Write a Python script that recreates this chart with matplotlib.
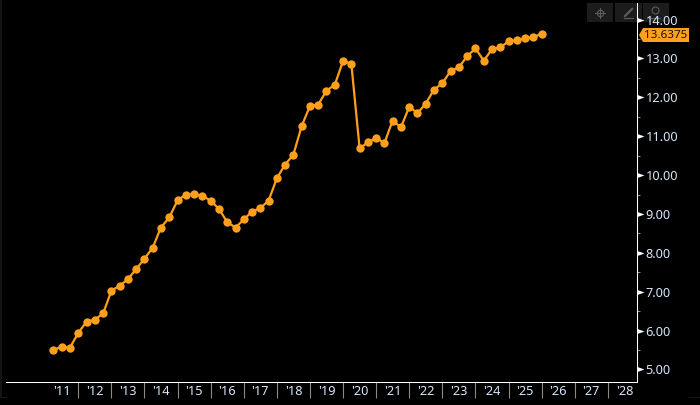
import numpy as np
import pandas as pd
import matplotlib
matplotlib.use("Agg")
import matplotlib.pyplot as plt
from matplotlib.patches import Polygon, Rectangle
from matplotlib.lines import Line2D
from matplotlib.path import Path

# quarterly readings
quarters = pd.date_range("2011-03-31", periods=60, freq="QE")
values = [5.50, 5.585, 5.56, 5.94, 6.23, 6.28, 6.44, 7.03, 7.15, 7.32,
          7.58, 7.85, 8.13, 8.65, 8.91, 9.35, 9.50, 9.51, 9.47, 9.34,
          9.13, 8.79, 8.65, 8.86, 9.06, 9.15, 9.34, 9.92, 10.27, 10.52,
          11.26, 11.78, 11.81, 12.17, 12.32, 12.94, 12.86, 10.69, 10.84, 10.96,
          10.82, 11.40, 11.23, 11.76, 11.59, 11.84, 12.20, 12.36, 12.68, 12.77,
          13.06, 13.26, 12.94, 13.24, 13.29, 13.44, 13.47, 13.52, 13.55, 13.6375]
last_label = "13.6375"

year_ticks = list(range(2012, 2029))
year_labels = ["'11", "'12", "'13", "'14", "'15", "'16", "'17", "'18", "'19",
               "'20", "'21", "'22", "'23", "'24", "'25", "'26", "'27", "'28"]
y_major = [5, 6, 7, 8, 9, 10, 11, 12, 13, 14]
y_minor = [5.5, 6.5, 7.5, 8.5, 9.5, 10.5, 11.5, 12.5, 13.5]

ORANGE = "#ffa01c"
TEXT = "#d6e6fa"
FS = 9.2
W, H = 700, 405

plt.rcParams["font.family"] = ["Noto Sans", "DejaVu Sans"]

fig = plt.figure(figsize=(7, 4.05), dpi=100, facecolor="black")
ax = fig.add_axes([6 / W, 1 - 381.7 / H, 630.5 / W, 378.7 / H], facecolor="none")

x = quarters.year + (quarters.dayofyear / 365.0)
ax.plot(x, values, color=ORANGE, lw=1.6, marker="o", ms=6, mew=0, clip_on=False)

ax.set_xlim(2009.816, 2028.864)
ax.set_ylim(4.684, 14.427)

for s in ["top", "left"]:
    ax.spines[s].set_visible(False)
for s in ["right", "bottom"]:
    ax.spines[s].set_color("white")
    ax.spines[s].set_linewidth(0.75)

# separators on year starts, labels centred between them
ax.set_xticks(year_ticks)
ax.set_xticklabels([])
ax.tick_params(axis="x", which="major", length=11.5, width=0.8, color="#8a8a8a")
ax.set_xticks([y + 0.5 for y in range(2011, 2029)], minor=True)
ax.set_xticklabels(year_labels, minor=True, fontsize=FS, color=TEXT)
ax.tick_params(axis="x", which="minor", length=0, pad=2.5)

ax.yaxis.tick_right()
ax.set_yticks(y_major)
ax.set_yticklabels(["%.2f" % v for v in y_major], fontsize=FS, color=TEXT)
ax.tick_params(axis="y", which="major", length=0, pad=6.5)
ax.set_yticks(y_minor, minor=True)
ax.tick_params(axis="y", which="minor", length=2.5, width=0.8, color="#8a8a8a")

# white arrow marks at the major y ticks, base on the axis line
arrow = Path([(0, -0.36), (0, 0.36), (1, 0), (0, -0.36)])
trans = ax.get_yaxis_transform()
ax.plot([1.0] * len(y_major), y_major, ls="none", marker=arrow, ms=10, mew=0,
        color="white", transform=trans, clip_on=False, zorder=5)


def px(xp, yp):
    return xp / W, 1 - yp / H


def seg(a, b, lw=0.8, color=None):
    fig.add_artist(Line2D(*zip(px(*a), px(*b)), transform=fig.transFigure, color=color or ICON, lw=lw, zorder=-1))


def ring(c, ms):
    fig.add_artist(Line2D(*zip(px(*c)), transform=fig.transFigure, marker="o", ms=ms, mfc="none",
                          mec=ICON, mew=0.8, ls="none", zorder=-1))


# toolbar buttons, behind the axes so 14.00 stays on top
ICON = "#5c5c5c"
for left, right in [(587, 613), (615, 642), (643, 669)]:
    fig.add_artist(Rectangle(px(left, 22), (right - left) / W, 19 / H, transform=fig.transFigure,
                             facecolor="#1c1c1c", edgecolor="none", zorder=-2))
ring((600, 12.5), 4.5)
seg((595, 12.5), (605, 12.5))
seg((600, 7.5), (600, 17.5))
seg((625, 16), (632, 9), 1.6)
seg((624, 17.5), (633, 17.5))
ring((655, 10), 5)
seg((650, 18), (660, 18))

# faint panel edges
FRAME = "#161616"
seg((1, 0), (1, 396.5), 1.4, FRAME)
seg((0, 396.5), (6, 396.5), 0.75, FRAME)
seg((689, 396.5), (700, 396.5), 0.75, FRAME)

# value tag for the last reading
tag = [px(639, 35), px(643, 28), px(689, 28), px(689, 42), px(643, 42)]
fig.add_artist(Polygon(tag, closed=True, transform=fig.transFigure, facecolor=ORANGE, edgecolor="none", zorder=6))
fig.text(*px(666, 35.2), last_label, color="#1a1000", fontsize=8.4, ha="center", va="center", zorder=7)

fig.savefig("out.png", dpi=100, facecolor="black")
